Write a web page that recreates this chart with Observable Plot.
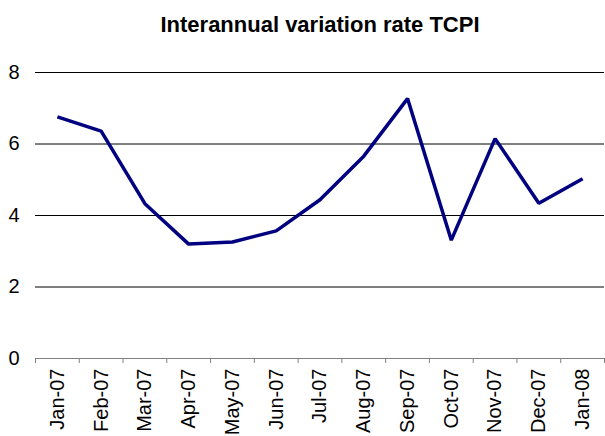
<!DOCTYPE html>
<html>
<head>
<meta charset="utf-8">
<script src="https://cdn.jsdelivr.net/npm/d3@7"></script>
<script src="https://cdn.jsdelivr.net/npm/@observablehq/plot@0.6"></script>
<style>
  html, body { margin: 0; padding: 0; background: #fff; }
  body { width: 605px; height: 436px; overflow: hidden; font-family: "Liberation Sans", Arial, sans-serif; }
  #title { height: 48px; line-height: 50px; padding-left: 35px; text-align: center; font-weight: bold; font-size: 22px; color: #000; }
  #chart svg text { font-size: 20px !important; font-family: "Liberation Sans", Arial, sans-serif; fill: #000; }
</style>
</head>
<body>
<div id="title">Interannual variation rate TCPI</div>
<div id="chart"></div>
<script>
const months = ["Jan-07","Feb-07","Mar-07","Apr-07","May-07","Jun-07","Jul-07","Aug-07","Sep-07","Oct-07","Nov-07","Dec-07","Jan-08"];
const rates = [6.76, 6.36, 4.33, 3.20, 3.26, 3.57, 4.44, 5.66, 7.27, 3.31, 6.15, 4.34, 5.03];
const yTicks = [0, 2, 4, 6, 8];

const data = months.map((m, i) => ({i, month: m, rate: rates[i]}));
const boundaries = d3.range(months.length + 1).map(k => k - 0.5);

const chart = Plot.plot({
  width: 605,
  height: 388,
  marginLeft: 35,
  marginRight: 1,
  marginTop: 24,
  marginBottom: 78,
  style: {fontFamily: "'Liberation Sans', Arial, sans-serif", fontSize: "20px", color: "#000", background: "#fff", overflow: "visible"},
  x: {
    type: "linear",
    domain: [-0.5, months.length - 0.5],
    ticks: d3.range(months.length),
    tickFormat: k => months[k],
    tickSize: 0,
    tickPadding: 10,
    tickRotate: -90,
    label: null
  },
  y: {
    domain: [0, 8],
    ticks: yTicks,
    tickSize: 0,
    tickPadding: 16,
    label: null
  },
  marks: [
    Plot.ruleY(yTicks.filter(d => d > 0), {stroke: "#000", strokeWidth: 1}),
    Plot.ruleY([0], {stroke: "#808080", strokeWidth: 1}),
    Plot.ruleX(boundaries, {x: d => d, y1: 0, y2: 0, insetBottom: -5, stroke: "#808080", strokeWidth: 1}),
    Plot.line(data, {x: "i", y: "rate", stroke: "#000080", strokeWidth: 3.5, strokeLinejoin: "miter", strokeLinecap: "butt"})
  ]
});
document.getElementById("chart").appendChild(chart);
</script>
</body>
</html>
